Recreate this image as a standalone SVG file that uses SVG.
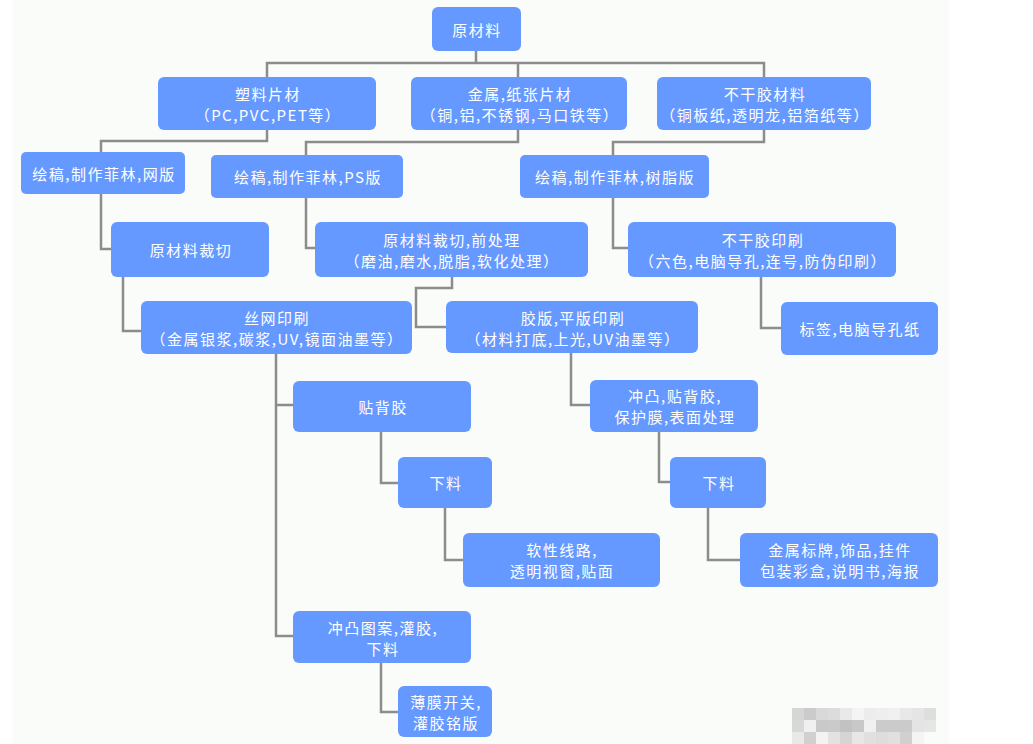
<svg xmlns="http://www.w3.org/2000/svg" width="1033" height="744" viewBox="0 0 1033 744">
<style>
.n{fill:#6699ff;}
.t{fill:#ffffff;font-family:"Noto Sans CJK SC","Noto Sans",sans-serif;font-size:15px;letter-spacing:1.5px;text-anchor:middle;dominant-baseline:central;}
.c{fill:none;stroke:#8c8c8c;stroke-width:2.5;}
</style>
<rect x="0" y="0" width="1033" height="744" fill="#ffffff"/>
<rect x="13" y="0" width="936" height="744" fill="#fafcfa"/>
<g id="connectors">
<path class="c" d="M476,51V63M267,77V63H764V77M518,63V77"/>
<path class="c" d="M267,130V141H101V152"/>
<path class="c" d="M518,130V142H306V155"/>
<path class="c" d="M764,130V142H613V155"/>
<path class="c" d="M101,194V249H111"/>
<path class="c" d="M306,198V248H315"/>
<path class="c" d="M613,198V248H628"/>
<path class="c" d="M761,277V328H781"/>
<path class="c" d="M123,277V331H141"/>
<path class="c" d="M452,277V288H416V327H446"/>
<path class="c" d="M276,354V636H293M276,405H293"/>
<path class="c" d="M381,432V483H398"/>
<path class="c" d="M445,508V560H463"/>
<path class="c" d="M381,663V712H398"/>
<path class="c" d="M571,353V405H590"/>
<path class="c" d="M659,432V482H670"/>
<path class="c" d="M708,508V560H740"/>
</g>
<g id="n1"><rect class="n" x="432" y="7" width="89" height="44" rx="6"/><text class="t" x="477" y="29">原材料</text></g>
<g id="n2"><rect class="n" x="158" y="77" width="218" height="53" rx="6"/><text class="t" x="268" y="93">塑料片材</text><text class="t" x="268" y="114">（PC,PVC,PET等）</text></g>
<g id="n3"><rect class="n" x="411" y="77" width="216" height="53" rx="6"/><text class="t" x="520" y="93">金属,纸张片材</text><text class="t" x="520" y="114">（铜,铝,不锈钢,马口铁等）</text></g>
<g id="n4"><rect class="n" x="657" y="77" width="214" height="53" rx="6"/><text class="t" x="765" y="93">不干胶材料</text><text class="t" x="765" y="114">（铜板纸,透明龙,铝箔纸等）</text></g>
<g id="n5"><rect class="n" x="21" y="152" width="164" height="42" rx="5"/><text class="t" x="104" y="173">绘稿,制作菲林,网版</text></g>
<g id="n6"><rect class="n" x="211" y="155" width="192" height="43" rx="5"/><text class="t" x="308" y="176.5">绘稿,制作菲林,PS版</text></g>
<g id="n7"><rect class="n" x="520" y="155" width="189" height="43" rx="5"/><text class="t" x="615" y="176.5">绘稿,制作菲林,树脂版</text></g>
<g id="n8"><rect class="n" x="111" y="222" width="158" height="55" rx="6"/><text class="t" x="191" y="249.5">原材料裁切</text></g>
<g id="n9"><rect class="n" x="315" y="222" width="273" height="55" rx="6"/><text class="t" x="452" y="239">原材料裁切,前处理</text><text class="t" x="452" y="260">（磨油,磨水,脱脂,软化处理）</text></g>
<g id="n10"><rect class="n" x="628" y="222" width="268" height="55" rx="6"/><text class="t" x="763" y="239">不干胶印刷</text><text class="t" x="763" y="260">（六色,电脑导孔,连号,防伪印刷）</text></g>
<g id="n11"><rect class="n" x="781" y="302" width="157" height="53" rx="6"/><text class="t" x="860" y="328.5">标签,电脑导孔纸</text></g>
<g id="n12"><rect class="n" x="141" y="301" width="271" height="53" rx="6"/><text class="t" x="277" y="317">丝网印刷</text><text class="t" x="277" y="338">（金属银浆,碳浆,UV,镜面油墨等）</text></g>
<g id="n13"><rect class="n" x="446" y="301" width="252" height="52" rx="6"/><text class="t" x="573" y="317">胶版,平版印刷</text><text class="t" x="573" y="338">（材料打底,上光,UV油墨等）</text></g>
<g id="n14"><rect class="n" x="293" y="381" width="178" height="51" rx="6"/><text class="t" x="383" y="406.5">贴背胶</text></g>
<g id="n15"><rect class="n" x="590" y="380" width="168" height="52" rx="6"/><text class="t" x="675" y="395.5">冲凸,贴背胶,</text><text class="t" x="675" y="416.5">保护膜,表面处理</text></g>
<g id="n16"><rect class="n" x="398" y="457" width="94" height="51" rx="6"/><text class="t" x="446" y="482.5">下料</text></g>
<g id="n17"><rect class="n" x="670" y="457" width="96" height="51" rx="6"/><text class="t" x="719" y="482.5">下料</text></g>
<g id="n18"><rect class="n" x="463" y="533" width="197" height="54" rx="6"/><text class="t" x="562" y="549.5">软性线路,</text><text class="t" x="562" y="570.5">透明视窗,贴面</text></g>
<g id="n19"><rect class="n" x="740" y="533" width="198" height="54" rx="6"/><text class="t" x="840" y="549.5">金属标牌,饰品,挂件</text><text class="t" x="840" y="570.5">包装彩盒,说明书,海报</text></g>
<g id="n20"><rect class="n" x="293" y="611" width="178" height="52" rx="6"/><text class="t" x="383" y="627">冲凸图案,灌胶,</text><text class="t" x="383" y="648">下料</text></g>
<g id="n21"><rect class="n" x="398" y="686" width="94" height="51" rx="6"/><text class="t" x="446" y="701">薄膜开关,</text><text class="t" x="446" y="722">灌胶铭版</text></g>
<g id="mosaic">
<rect x="792" y="708" width="12" height="12" fill="#d6d6d6"/><rect x="804" y="708" width="12" height="12" fill="#cbcbcb"/><rect x="816" y="708" width="12" height="12" fill="#d9d9d9"/><rect x="828" y="708" width="12" height="12" fill="#dcdcdc"/><rect x="840" y="708" width="12" height="12" fill="#e9e9e9"/><rect x="852" y="708" width="12" height="12" fill="#f4f4f4"/><rect x="864" y="708" width="12" height="12" fill="#ececec"/><rect x="876" y="708" width="12" height="12" fill="#eeeeee"/><rect x="888" y="708" width="12" height="12" fill="#f0f0f0"/><rect x="900" y="708" width="12" height="12" fill="#e8e8e8"/><rect x="912" y="708" width="12" height="12" fill="#e5e5e5"/><rect x="924" y="708" width="12" height="12" fill="#dedede"/>
<rect x="792" y="720" width="12" height="12" fill="#d8d8d8"/><rect x="804" y="720" width="12" height="12" fill="#f0f0f0"/><rect x="816" y="720" width="12" height="12" fill="#c9c9c9"/><rect x="828" y="720" width="12" height="12" fill="#cacaca"/><rect x="840" y="720" width="12" height="12" fill="#c2c2c2"/><rect x="852" y="720" width="12" height="12" fill="#c8c8c8"/><rect x="864" y="720" width="12" height="12" fill="#f0f0f0"/><rect x="876" y="720" width="12" height="12" fill="#cbcbcb"/><rect x="888" y="720" width="12" height="12" fill="#cbcbcb"/><rect x="900" y="720" width="12" height="12" fill="#cbcbcb"/><rect x="912" y="720" width="12" height="12" fill="#e4e4e4"/><rect x="924" y="720" width="12" height="12" fill="#e6e6e6"/>
<rect x="792" y="732" width="12" height="12" fill="#e9e9e9"/><rect x="804" y="732" width="12" height="12" fill="#d0d0d0"/><rect x="816" y="732" width="12" height="12" fill="#f3f3f3"/><rect x="828" y="732" width="12" height="12" fill="#e2e2e2"/><rect x="840" y="732" width="12" height="12" fill="#d5d5d5"/><rect x="852" y="732" width="12" height="12" fill="#e7e7e7"/><rect x="864" y="732" width="12" height="12" fill="#e0e0e0"/><rect x="876" y="732" width="12" height="12" fill="#dddddd"/><rect x="888" y="732" width="12" height="12" fill="#e0e0e0"/><rect x="900" y="732" width="12" height="12" fill="#d0d0d0"/><rect x="912" y="732" width="12" height="12" fill="#f4f4f4"/>
</g>
</svg>
